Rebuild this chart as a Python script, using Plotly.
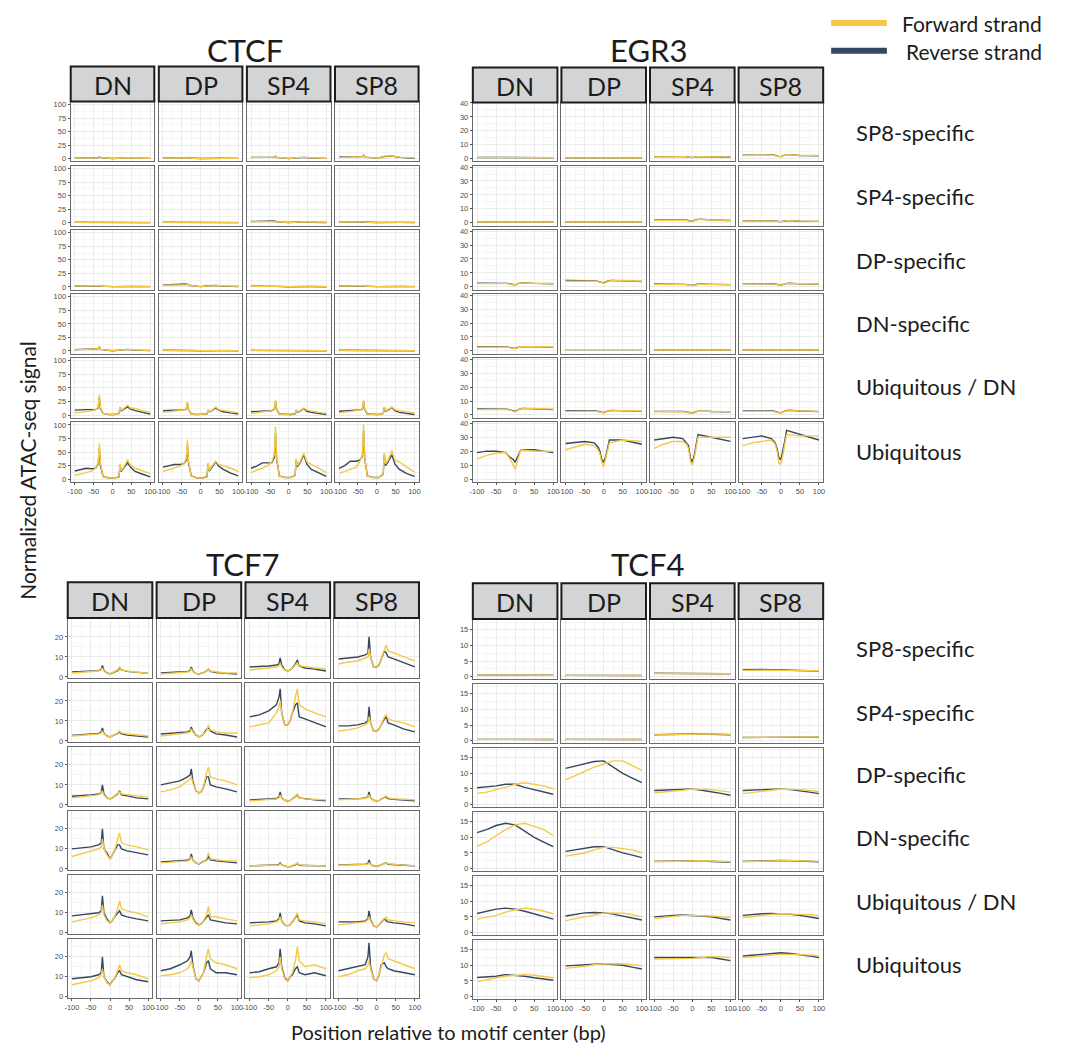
import plotly.graph_objects as go

# ---------------- data ----------------
ROWS = ["SP8-specific", "SP4-specific", "DP-specific", "DN-specific", "Ubiquitous / DN", "Ubiquitous"]
COLS = ["DN", "DP", "SP4", "SP8"]
X_TICKS = [-100, -50, 0, 50, 100]
X_TICK_TEXT = ["-100", "-50", "0", "50", "100"]

# CTCF
CTCF_X = [-100, -85, -70, -55, -45, -38, -35, -32, -25, -10, 5, 17, 20, 23, 30, 40, 48, 60, 80, 100]
CTCF_X_COARSE = [-100, -50, -38, -35, -32, 0, 20, 40, 60, 100]
CTCF_FWD = [
    [[1.5, 1.5, 2, 4, 2, 0.5, 1.5, 2, 1.5, 1], [1.5, 1.5, 1.5, 3, 1.5, 0.5, 1, 1.5, 1, 1],
     [2, 2, 3, 6, 3, 0.5, 2, 3, 2, 1], [2.5, 3, 4, 8, 3, 1, 5, 5, 3, 2]],
    [[1, 1, 1, 1.5, 1, 0.3, 0.8, 1, 0.8, 0.5], [1, 1, 1, 1.5, 1, 0.3, 0.8, 1, 0.8, 0.5],
     [2, 2, 2.5, 4, 2, 0.5, 1.5, 2, 1.5, 1], [1.5, 1.5, 2, 3, 1.5, 0.5, 1, 1.5, 1, 0.8]],
    [[1.5, 1.5, 2, 3, 1.5, 0.5, 1, 1.5, 1, 0.8], [3, 3.5, 4, 6, 3, 0.5, 2, 2.5, 2, 1],
     [1, 1, 1.2, 2, 1, 0.3, 0.8, 1, 0.8, 0.5], [1.5, 1.5, 2, 3, 1.5, 0.5, 1, 1.5, 1, 0.8]],
    [[2, 2.5, 4, 9, 3, 0.5, 2, 3, 2, 1], [1, 1, 1.2, 2, 1, 0.3, 0.8, 1, 0.8, 0.5],
     [1, 1, 1, 1.5, 1, 0.3, 0.8, 1, 0.8, 0.5], [1, 1, 1, 1.5, 1, 0.3, 0.8, 1, 0.8, 0.5]],
    [[4, 5, 7, 8, 10, 14, 38, 14, 3, 1, 1, 3, 15, 9, 12, 18, 13, 12, 8, 5],
     [5, 6, 7, 8, 9, 12, 25, 11, 2, 1, 1, 2, 10, 6, 9, 15, 10, 9, 6, 4],
     [3, 4, 6, 7, 8, 12, 28, 11, 2, 1, 1, 2, 10, 6, 8, 13, 9, 7, 5, 3],
     [4, 5, 6, 8, 9, 12, 28, 11, 2, 1, 1, 3, 15, 8, 10, 15, 10, 8, 6, 4]],
    [[7, 9, 12, 15, 20, 30, 66, 30, 5, 2, 2, 5, 28, 15, 22, 36, 25, 20, 15, 10],
     [14, 17, 20, 24, 28, 38, 73, 32, 6, 2, 2, 6, 30, 16, 24, 33, 27, 25, 20, 14],
     [12, 16, 20, 25, 32, 45, 97, 40, 6, 3, 3, 8, 38, 25, 32, 48, 32, 28, 20, 12],
     [10, 14, 18, 22, 32, 45, 100, 40, 6, 3, 3, 10, 48, 28, 35, 53, 35, 32, 22, 13]],
]
CTCF_REV = [
    [[1.8, 1.8, 2, 3.5, 2, 0.5, 1.5, 2, 1.3, 0.8], [1.8, 1.8, 1.8, 2.8, 1.5, 0.5, 1, 1.5, 1, 0.8],
     [2.5, 2.5, 3, 5, 2.5, 0.5, 2, 2.5, 1.5, 0.8], [3.5, 3.5, 4, 7, 3, 1, 4, 5, 2.5, 1]],
    [[1.2, 1.2, 1.2, 1.5, 1, 0.3, 0.8, 1, 0.7, 0.4], [1.2, 1.2, 1.2, 1.5, 1, 0.3, 0.8, 1, 0.7, 0.4],
     [2.5, 2.5, 2.5, 3.5, 2, 0.5, 1.5, 2, 1.2, 0.7], [1.8, 1.8, 2, 2.8, 1.5, 0.5, 1, 1.5, 0.8, 0.6]],
    [[1.8, 1.8, 2, 2.8, 1.5, 0.5, 1, 1.5, 0.8, 0.6], [3.5, 4, 4.5, 5.5, 3, 0.5, 2, 2.5, 1.5, 0.8],
     [1.2, 1.2, 1.2, 1.8, 1, 0.3, 0.8, 1, 0.7, 0.4], [1.8, 1.8, 2, 2.8, 1.5, 0.5, 1, 1.5, 0.8, 0.6]],
    [[2.5, 3, 4, 8, 3, 0.5, 2, 3, 1.5, 0.8], [1.2, 1.2, 1.2, 1.8, 1, 0.3, 0.8, 1, 0.7, 0.4],
     [1.2, 1.2, 1.2, 1.5, 1, 0.3, 0.8, 1, 0.7, 0.4], [1.2, 1.2, 1.2, 1.5, 1, 0.3, 0.8, 1, 0.7, 0.4]],
    [[9, 10, 10, 10, 10, 13, 33, 12, 3, 1, 1, 3, 14, 8, 11, 15, 11, 8, 5, 2],
     [8, 9, 9, 9, 9, 11, 22, 10, 2, 1, 1, 2, 9, 6, 8, 13, 9, 6, 4, 2],
     [6, 7, 8, 8, 8, 11, 25, 10, 2, 1, 1, 2, 9, 5, 7, 12, 7, 5, 3, 1],
     [7, 8, 9, 9, 9, 11, 25, 10, 2, 1, 1, 3, 14, 7, 9, 14, 8, 5, 3, 1]],
    [[15, 18, 20, 19, 20, 28, 57, 25, 5, 2, 2, 4, 26, 14, 20, 30, 22, 14, 9, 4],
     [22, 24, 27, 27, 28, 35, 62, 30, 6, 2, 2, 5, 28, 15, 22, 32, 24, 18, 11, 6],
     [20, 24, 30, 30, 30, 40, 85, 38, 6, 3, 3, 7, 35, 23, 30, 45, 28, 18, 11, 5],
     [20, 25, 33, 33, 35, 42, 90, 38, 6, 3, 3, 9, 45, 25, 32, 45, 28, 18, 10, 5]],
]

# EGR3
EGR3_X = [-100, -75, -50, -25, -15, -10, -5, 0, 5, 10, 15, 50, 100]
EGR3_X_COARSE = [-100, -50, -20, -5, 0, 10, 20, 50, 100]
EGR3_FWD = [
    [[0.8, 0.8, 0.8, 0.6, 0.5, 0.7, 0.8, 0.8, 0.7], [0.6, 0.6, 0.6, 0.4, 0.3, 0.5, 0.6, 0.6, 0.5],
     [1.3, 1.5, 1.5, 1, 0.8, 1.3, 1.5, 1.3, 1.3], [2.3, 2.5, 2.5, 1.6, 1.4, 2.5, 2.8, 2.4, 2.3]],
    [[0.5, 0.5, 0.5, 0.4, 0.3, 0.4, 0.5, 0.5, 0.5], [0.5, 0.5, 0.5, 0.4, 0.3, 0.4, 0.5, 0.5, 0.5],
     [1.8, 2, 2, 1.2, 1, 2, 2.5, 2, 1.8], [1.3, 1.4, 1.3, 0.8, 0.7, 1.2, 1.5, 1.2, 1.1]],
    [[2.3, 2.5, 2.3, 1.6, 1.3, 2.4, 2.8, 2.6, 2.4], [4, 4.2, 4, 3, 2.5, 3.8, 4.5, 4.5, 4],
     [1.8, 1.9, 1.7, 1.1, 0.9, 1.6, 1.9, 1.8, 1.7], [2.1, 2.3, 2.1, 1.4, 1.1, 2, 2.5, 2.2, 2]],
    [[2.6, 2.8, 2.6, 1.8, 1.5, 2.6, 3, 3, 2.8], [0.9, 0.9, 0.9, 0.7, 0.6, 0.8, 0.9, 1, 0.9],
     [0.6, 0.6, 0.6, 0.4, 0.3, 0.6, 0.7, 0.6, 0.6], [0.6, 0.6, 0.6, 0.4, 0.3, 0.6, 0.7, 0.6, 0.6]],
    [[3.8, 4.2, 4, 2.8, 2.2, 3.8, 4.6, 4.6, 4.2], [2.6, 2.8, 2.6, 1.8, 1.4, 2.6, 3.2, 3, 2.8],
     [2.3, 2.5, 2.3, 1.5, 1.1, 2.2, 2.8, 2.6, 2.4], [2.6, 2.8, 2.6, 1.7, 1.3, 2.5, 3.2, 2.9, 2.6]],
    [[14.5, 17, 18.5, 19, 15, 13, 10, 7, 12, 17, 21, 20, 20],
     [21, 23, 25, 24, 21, 18, 12, 9, 14, 20, 26, 28, 27],
     [22, 25, 27, 27, 25, 22, 13, 10, 15, 22, 30, 30, 30],
     [24, 26, 27, 28, 25, 20, 11, 11, 17, 24, 32, 31, 31]],
]
EGR3_REV = [
    [[0.9, 0.9, 0.8, 0.6, 0.5, 0.7, 0.8, 0.8, 0.7], [0.6, 0.6, 0.6, 0.4, 0.3, 0.5, 0.6, 0.6, 0.5],
     [1.5, 1.6, 1.5, 1, 0.8, 1.3, 1.5, 1.3, 1.2], [2.5, 2.7, 2.6, 1.7, 1.5, 2.6, 2.9, 2.3, 2]],
    [[0.5, 0.5, 0.5, 0.4, 0.3, 0.4, 0.5, 0.5, 0.5], [0.5, 0.5, 0.5, 0.4, 0.3, 0.4, 0.5, 0.5, 0.5],
     [2, 2.2, 2.2, 1.3, 1.1, 2.2, 2.6, 2, 1.6], [1.4, 1.5, 1.4, 0.9, 0.8, 1.3, 1.5, 1.1, 1]],
    [[2.6, 2.7, 2.5, 1.7, 1.4, 2.5, 2.9, 2.5, 2.2], [4.5, 4.6, 4.3, 3.2, 2.8, 4, 4.6, 4.3, 3.8],
     [2, 2, 1.8, 1.2, 1, 1.7, 2, 1.8, 1.6], [2.3, 2.5, 2.2, 1.5, 1.2, 2.1, 2.6, 2.1, 1.9]],
    [[3, 3.1, 2.8, 2, 1.7, 2.7, 3.1, 2.9, 2.5], [0.9, 0.9, 0.9, 0.7, 0.6, 0.8, 0.9, 1, 0.9],
     [0.6, 0.6, 0.6, 0.4, 0.3, 0.6, 0.7, 0.6, 0.6], [0.6, 0.6, 0.6, 0.4, 0.3, 0.6, 0.7, 0.6, 0.6]],
    [[4.3, 4.4, 4.1, 3, 2.5, 4, 4.7, 4.4, 3.8], [3, 3.1, 2.8, 2, 1.6, 2.8, 3.3, 2.9, 2.6],
     [2.6, 2.7, 2.5, 1.6, 1.3, 2.4, 2.9, 2.5, 2.2], [2.9, 3.0, 2.8, 1.8, 1.5, 2.7, 3.4, 2.8, 2.4]],
    [[19, 20, 20, 19, 16, 15, 14, 12, 15, 18, 21, 21, 19],
     [25.5, 26, 27, 26, 23, 20, 14, 12, 16, 22, 28, 28, 25],
     [28, 29, 30, 29, 26, 24, 15, 12, 17, 24, 32, 30, 27],
     [29, 30, 31, 29, 26, 22, 15, 14, 20, 27, 35, 32, 28]],
]

# TCF7
TCF7_X = [-100, -75, -50, -30, -23, -20, -16, -8, 0, 6, 12, 20, 25, 30, 45, 70, 100]
TCF7_FWD = [
    [[2, 2.3, 2.7, 3, 3.5, 4.5, 3, 2, 1.5, 2, 2.5, 3.5, 5, 3.5, 3, 2.5, 1.8],
     [1.5, 1.8, 2.2, 2.5, 3, 4, 2.8, 1.8, 1.5, 1.8, 2.2, 3.2, 4, 3, 2.5, 2, 2],
     [3.5, 4, 4.5, 5, 5.5, 7, 5, 3.5, 3, 3.5, 4.5, 6, 7, 5.5, 5, 4.5, 4],
     [6.5, 7.5, 8, 9.5, 10, 14, 10, 5, 5, 6, 9, 14, 16, 13, 12, 10, 8]],
    [[2.5, 2.8, 3.2, 3.5, 4, 5, 3.5, 2.5, 2, 2.5, 3, 4, 5, 4, 3.5, 3, 2.5],
     [2.5, 3, 3.5, 4, 4.5, 6, 4.5, 3, 2, 2.5, 3.5, 5, 8, 5.5, 4.5, 4, 4],
     [7, 8, 9, 14, 17, 20, 14, 8, 8, 10, 14, 22, 26, 18, 16, 14, 12],
     [5, 5.5, 6.5, 8, 9, 12, 9, 5, 5, 6, 8, 12, 13, 11, 10, 9, 7]],
    [[3.5, 4, 4.5, 5, 6, 7, 5, 3.5, 3, 3.5, 4.5, 5.5, 6.5, 5.5, 5, 4.5, 4],
     [6.5, 7.5, 9, 12, 13, 14, 11, 7, 6, 6.5, 9, 16, 19, 14, 13, 12, 10],
     [2, 2.3, 2.5, 3, 3.5, 5, 3.5, 2.3, 2, 2.3, 3, 4.5, 5.5, 3.5, 3, 2.8, 2.5],
     [2.5, 2.7, 3, 3.2, 3.8, 5, 3.5, 2.3, 2, 2.3, 3, 3.8, 4.5, 3.5, 3, 2.8, 2.5]],
    [[6.2, 7.5, 9, 10, 11, 15, 10, 7, 5, 7, 9, 15, 18, 13, 12, 11, 9.5],
     [3, 3.3, 3.5, 4, 4.5, 6, 4.5, 3, 2.5, 3, 3.5, 5, 8, 5, 4.5, 4, 4],
     [1.5, 1.5, 1.7, 1.8, 2, 2.5, 2, 1.3, 1, 1.2, 1.5, 2.2, 3, 2, 1.8, 1.6, 1.5],
     [1.8, 1.9, 2, 2.2, 2.5, 3, 2.2, 1.5, 1.2, 1.5, 2, 2.8, 3, 2.5, 2.2, 1.9, 1.6]],
    [[5.5, 6.5, 7.5, 9, 10, 14, 9, 6, 5, 6, 8, 12, 16, 12, 11, 10, 8],
     [4.5, 5, 5.5, 6.5, 7.5, 9, 7, 4.5, 4, 4.5, 6, 9, 13, 8, 8, 7, 6],
     [3.5, 4, 4.5, 5.5, 6.5, 8, 6, 4, 3.5, 4, 5.5, 8, 10, 6.5, 6, 5.5, 4.5],
     [4, 4.5, 5, 5.5, 6.5, 8, 6, 3.5, 3, 4, 5.5, 7, 8, 6.5, 6, 5.5, 5]],
    [[6, 7, 8, 9.5, 11, 14, 10, 7, 6, 8, 9, 13, 16, 13, 12, 11, 9],
     [10.5, 11, 12, 14, 16, 18, 15, 9, 8, 10, 12, 20, 24, 19, 17, 16, 14],
     [9.5, 10, 11, 13, 15, 20, 14, 9, 8, 10, 12, 18, 25, 18, 15, 16, 14],
     [10, 11, 13, 14, 16, 18, 14, 9, 8, 11, 15, 21, 22, 19, 18, 16, 14]],
]
TCF7_REV = [
    [[2.5, 2.7, 3, 3.2, 3.8, 5.7, 3.2, 2, 1.5, 2, 2.5, 3.2, 4.5, 3.5, 2.8, 2.2, 1.8],
     [2, 2.2, 2.5, 2.8, 3.3, 5, 3, 1.8, 1.5, 1.8, 2.2, 3, 4, 2.8, 2.2, 1.8, 1.5],
     [5, 5.2, 5.5, 6, 6.5, 9.5, 6, 3.5, 3, 3.5, 4.5, 6.5, 8.5, 5.5, 4.5, 4, 3],
     [9, 9.5, 10, 11, 12, 20, 10, 5, 5, 6, 9, 13, 12, 10, 9, 7, 5]],
    [[2.8, 3, 3.5, 3.8, 4.5, 6.5, 3.8, 2.5, 2, 2.5, 3, 3.8, 4.5, 3.5, 3, 2.5, 2],
     [3.5, 3.8, 4, 4.5, 5, 7, 5, 3, 2, 2.5, 3.5, 5.5, 7, 5, 3.5, 3, 2],
     [12, 13, 15, 18, 22, 26, 14, 8, 8, 10, 14, 18, 19, 12, 11, 9, 7],
     [7.5, 7.5, 8, 9, 10, 17, 9, 5, 5, 6, 8, 11, 12, 9, 8, 6, 4.5]],
    [[4.3, 4.5, 5, 5.5, 6, 10, 5.5, 3.5, 3, 3.5, 4.5, 5.5, 7, 5, 4.5, 3.5, 3],
     [10, 11, 12, 14, 15, 18, 12, 7, 6, 6.5, 9, 14, 14, 10, 9, 8, 6.5],
     [2.5, 2.8, 3, 3.2, 4, 6.5, 3.5, 2.3, 2, 2.3, 3, 4.5, 5, 3.5, 3, 2.5, 2],
     [3, 3, 3, 3.5, 4, 6.5, 3.5, 2.3, 2, 2.3, 3, 3.8, 4, 3.2, 2.8, 2.3, 2]],
    [[10, 10.5, 11, 12, 13, 20, 10, 8, 5, 7, 9, 12, 12, 10, 9, 8, 7],
     [3.5, 3.8, 4, 4.3, 5, 7.5, 4.5, 3, 2.5, 3, 3.5, 4.5, 6, 4.5, 4, 3.5, 3],
     [1.5, 1.6, 1.8, 2, 2.2, 3, 2, 1.3, 1, 1.2, 1.5, 2, 2.8, 1.8, 1.7, 1.5, 1.5],
     [2, 2, 2.1, 2.3, 2.7, 4.5, 2.3, 1.5, 1.2, 1.5, 2, 2.7, 3, 2.3, 2, 1.8, 1.5]],
    [[8.5, 9, 9.5, 10, 11, 18.5, 10, 7, 5, 6, 8, 10, 11, 9, 8, 7, 6],
     [6, 6.3, 6.5, 7.5, 8.5, 11.5, 7.5, 5, 4, 4.5, 6, 8, 9, 6.5, 6, 5, 4.5],
     [5, 5.2, 5.5, 6, 7, 10, 6, 4, 3.5, 4, 5.5, 8, 9, 6, 5, 4.5, 3.5],
     [5.5, 5.5, 5.5, 6, 7, 11, 6.5, 3.5, 3, 4, 5.5, 7, 6, 5.5, 5, 4.5, 3.5]],
    [[9, 9.5, 10, 11, 12, 20, 10, 7.5, 6, 8, 9, 12, 13, 11, 10, 8.5, 7.5],
     [13, 14, 16, 18, 20, 23, 16, 9, 8, 10, 12, 17, 18, 14, 12, 12, 11],
     [12, 12.5, 14, 15, 17, 24, 15, 9.5, 8, 10, 11, 14, 15, 12, 11, 12, 10.5],
     [13, 14, 15, 16, 20, 27, 15, 9, 8, 11, 16, 17, 15, 14, 13, 12, 11]],
]

# TCF4
TCF4_X = [-100, -75, -50, -25, 0, 25, 50, 75, 100]
TCF4_FWD = [
    [[0.5, 0.5, 0.55, 0.55, 0.55, 0.5, 0.5, 0.45, 0.45], [0.4, 0.4, 0.45, 0.45, 0.45, 0.4, 0.4, 0.4, 0.35],
     [1.0, 1.05, 1.1, 1.1, 1.0, 1.0, 1.0, 0.95, 0.95], [2.0, 2.1, 2.2, 2.1, 2.0, 2.0, 2.0, 1.9, 1.9]],
    [[0.4, 0.4, 0.4, 0.4, 0.4, 0.4, 0.4, 0.4, 0.35], [0.4, 0.4, 0.4, 0.4, 0.4, 0.4, 0.4, 0.4, 0.35],
     [1.8, 1.9, 1.9, 2.0, 2.0, 2.1, 2.1, 2.0, 2.0], [1.0, 1.0, 1.1, 1.1, 1.1, 1.1, 1.1, 1.1, 1.2]],
    [[3.6, 4, 4.8, 5.5, 6.5, 7, 6.5, 6, 5], [7.9, 9.3, 10.5, 12, 13, 14, 14, 12.5, 11],
     [3.8, 4, 4.2, 4.6, 5, 5, 4.8, 4.4, 4], [3.5, 3.8, 4.2, 4.6, 5, 5, 4.8, 4.5, 4.2]],
    [[7.2, 8.5, 10.5, 12.5, 14, 14.5, 13.5, 12.5, 10.5], [4, 4.4, 5, 6, 6.8, 6.8, 6.5, 6, 5],
     [2.2, 2.3, 2.4, 2.5, 2.5, 2.5, 2.4, 2.3, 2.2], [2.2, 2.3, 2.4, 2.5, 2.6, 2.6, 2.5, 2.4, 2.3]],
    [[4.3, 4.8, 5.5, 6.5, 7.3, 7.8, 7.5, 6.8, 6], [3.8, 4.4, 5, 5.7, 6.2, 6.3, 6.2, 5.7, 5],
     [4.5, 4.9, 5.3, 5.5, 5.5, 5.5, 5.3, 5.1, 4.8], [4.8, 5.2, 5.5, 5.8, 6, 6, 5.8, 5.7, 5.5]],
    [[4.7, 5.4, 6, 6.5, 6.8, 7, 6.8, 6.5, 6], [9, 9.3, 9.7, 10.2, 10.5, 10.5, 10.5, 10.2, 9.8],
     [12, 12, 12, 12.2, 12.2, 12.5, 12.8, 12.7, 12.5], [12.5, 12.8, 13, 13.3, 13.5, 13.5, 13.5, 13.3, 13]],
]
TCF4_REV = [
    [[0.5, 0.5, 0.55, 0.55, 0.55, 0.5, 0.5, 0.45, 0.45], [0.4, 0.4, 0.45, 0.45, 0.45, 0.4, 0.4, 0.4, 0.35],
     [1.1, 1.1, 1.15, 1.1, 1.05, 1.0, 0.95, 0.95, 0.9], [2.2, 2.3, 2.3, 2.2, 2.1, 2.0, 2.0, 1.9, 1.8]],
    [[0.4, 0.4, 0.4, 0.4, 0.4, 0.4, 0.4, 0.4, 0.35], [0.4, 0.4, 0.4, 0.4, 0.4, 0.4, 0.4, 0.4, 0.35],
     [1.9, 2.0, 2.0, 2.0, 2.1, 2.1, 2.0, 2.0, 1.9], [1.0, 1.05, 1.1, 1.1, 1.1, 1.1, 1.1, 1.1, 1.1]],
    [[5.4, 5.6, 6, 6.5, 6.5, 5.5, 4.8, 4, 3.3], [11.6, 12.3, 13.2, 13.8, 14, 12, 10, 8.5, 7],
     [4.5, 4.6, 4.8, 5, 5, 4.6, 4.2, 3.6, 3], [4.5, 4.6, 4.8, 5, 5, 4.8, 4.5, 4, 3.5]],
    [[11.5, 12.5, 13.8, 14.5, 14, 12, 10, 8.5, 7], [5.5, 6, 6.5, 7, 7, 6, 5, 4.3, 3.5],
     [2.3, 2.4, 2.5, 2.6, 2.5, 2.4, 2.3, 2.1, 2.0], [2.3, 2.4, 2.5, 2.6, 2.6, 2.5, 2.4, 2.3, 2.2]],
    [[6.1, 6.8, 7.5, 7.8, 7.5, 6.8, 6, 5, 4.3], [5.3, 5.8, 6.3, 6.4, 6.3, 5.9, 5.3, 4.7, 4],
     [5, 5.3, 5.5, 5.6, 5.5, 5.3, 5, 4.5, 4], [5.5, 5.8, 6, 6.1, 6, 5.8, 5.5, 5, 4.5]],
    [[6.1, 6.3, 6.5, 7, 6.8, 6.5, 6, 5.6, 5.2], [9.8, 10, 10.2, 10.5, 10.5, 10.2, 10, 9.4, 8.8],
     [12.5, 12.5, 12.5, 12.5, 12.5, 12.5, 12.5, 12, 11.5], [13, 13.2, 13.5, 13.8, 14, 13.8, 13.5, 13, 12.5]],
]

CTCF_Y_TICKS = [0, 25, 50, 75, 100]
EGR3_Y_TICKS = [0, 10, 20, 30, 40]
TCF7_Y_TICKS = [0, 10, 20]
TCF4_Y_TICKS = [0, 5, 10, 15]

# ---------------- style / geometry ----------------
WIN_W, WIN_H = 1086, 1057
OFF = 8  # default body margin of the html page
W, H = WIN_W - 2 * OFF, WIN_H - 2 * OFF
FWD_COLOR = "#F6C944"
REV_COLOR = "#34475F"
FONT = "Lato"
TXT = "#1c1c1c"


def px(x):
    return (x - OFF) / W


def py(y):
    return 1 - (y - OFF) / H


PANELS = [
    dict(name="CTCF", xg=CTCF_X, xc=CTCF_X_COARSE, fwd=CTCF_FWD, rev=CTCF_REV, yt=CTCF_Y_TICKS,
         yminor=[12.5, 37.5, 62.5, 87.5], yr=[-5, 105],
         cx0=68, cp=88.5, cw=84, ry0=99.5, rp=64.5, rh=60, st=(64, 99), ty=47),
    dict(name="EGR3", xg=EGR3_X, xc=EGR3_X_COARSE, fwd=EGR3_FWD, rev=EGR3_REV, yt=EGR3_Y_TICKS,
         yminor=[5, 15, 25, 35], yr=[-2, 40.8],
         cx0=472, cp=89, cw=85, ry0=99.5, rp=64.5, rh=60, st=(65, 100), ty=47),
    dict(name="TCF7", xg=TCF7_X, xc=TCF7_X, fwd=TCF7_FWD, rev=TCF7_REV, yt=TCF7_Y_TICKS,
         yminor=[5, 15, 25], yr=[-0.5, 29],
         cx0=65, cp=89.3, cw=85, ry0=620, rp=64.4, rh=59.5, st=(583, 619), ty=565),
    dict(name="TCF4", xg=TCF4_X, xc=TCF4_X, fwd=TCF4_FWD, rev=TCF4_REV, yt=TCF4_Y_TICKS,
         yminor=[2.5, 7.5, 12.5, 17.5], yr=[-0.75, 18.2],
         cx0=472, cp=89, cw=85, ry0=621, rp=64.4, rh=59.5, st=(584, 620), ty=565),
]


def text(t, x, y, size, xanchor="center", angle=0):
    return dict(text=t, x=px(x), y=py(y), xref="paper", yref="paper", showarrow=False,
                xanchor=xanchor, yanchor="middle", textangle=angle,
                font=dict(family=FONT, size=size, color=TXT))


fig = go.Figure()
layout = {}
shapes = []
annotations = []

k = 0
for P in PANELS:
    for r in range(6):
        for c in range(4):
            k += 1
            xa = "x" if k == 1 else f"x{k}"
            ya = "y" if k == 1 else f"y{k}"
            x0 = P["cx0"] + c * P["cp"]
            x1 = x0 + P["cw"]
            y0 = P["ry0"] + r * P["rp"]
            y1 = y0 + P["rh"]
            for series, color in ((P["rev"], REV_COLOR), (P["fwd"], FWD_COLOR)):
                yv = series[r][c]
                xv = P["xg"] if len(yv) == len(P["xg"]) else P["xc"]
                fig.add_trace(go.Scatter(x=xv, y=yv, mode="lines", xaxis=xa, yaxis=ya,
                                         line=dict(color=color, width=1.4), showlegend=False,
                                         hoverinfo="skip"))
            bottom = (r == 5)
            left = (c == 0)
            layout["xaxis" if k == 1 else f"xaxis{k}"] = dict(
                domain=[px(x0), px(x1)], anchor=ya, range=[-111, 111],
                tickvals=X_TICKS, ticktext=X_TICK_TEXT, showticklabels=bottom,
                ticks="outside" if bottom else "", ticklen=2, tickcolor="#555555",
                tickfont=dict(family="Liberation Sans", size=7.5, color="#4d4d4d"),
                showgrid=True, gridcolor="#EBEBEB", gridwidth=0.8,
                minor=dict(tickvals=[-75, -25, 25, 75], showgrid=True, gridcolor="#F5F5F5",
                           gridwidth=0.5, ticks=""),
                zeroline=False, showline=True, mirror=True, linecolor="#6a6a6a", linewidth=1.2,
                fixedrange=True)
            layout["yaxis" if k == 1 else f"yaxis{k}"] = dict(
                domain=[py(y1), py(y0)], anchor=xa, range=P["yr"],
                tickvals=P["yt"], showticklabels=left,
                ticks="outside" if left else "", ticklen=2, tickcolor="#555555",
                tickfont=dict(family="Liberation Sans", size=7.5, color="#4d4d4d"),
                showgrid=True, gridcolor="#EBEBEB", gridwidth=0.8,
                minor=dict(tickvals=P["yminor"], showgrid=True, gridcolor="#F5F5F5",
                           gridwidth=0.5, ticks=""),
                zeroline=False, showline=True, mirror=True, linecolor="#6a6a6a", linewidth=1.2,
                fixedrange=True)
    # strips
    for c, lab in enumerate(COLS):
        x0 = P["cx0"] + c * P["cp"]
        x1 = x0 + P["cw"]
        shapes.append(dict(type="rect", xref="paper", yref="paper",
                           x0=px(x0), x1=px(x1), y0=py(P["st"][1]), y1=py(P["st"][0]),
                           fillcolor="#D3D4D6", line=dict(color="#1c1c1c", width=2)))
        annotations.append(text(lab, (x0 + x1) / 2, (P["st"][0] + P["st"][1]) / 2 + 1, 25))
    # title
    xm = (P["cx0"] + P["cx0"] + 3 * P["cp"] + P["cw"]) / 2
    annotations.append(text(P["name"], xm, P["ty"], 31))

# row labels
ROW_LABEL_Y_TOP = [130, 195, 259, 323, 386, 451]
ROW_LABEL_Y_BOTTOM = [650, 714, 777, 840, 905, 968]
for ys in (ROW_LABEL_Y_TOP, ROW_LABEL_Y_BOTTOM):
    for lab, yy in zip(ROWS, ys):
        annotations.append(text(lab, 855, yy, 22, xanchor="left"))

# legend
for lab, color, yy, xt in (("Forward strand", FWD_COLOR, 21, 901), ("Reverse strand", REV_COLOR, 49, 905)):
    shapes.append(dict(type="line", xref="paper", yref="paper", x0=px(832), x1=px(888),
                       y0=py(yy - 1), y1=py(yy - 1), line=dict(color=color, width=6)))
    annotations.append(text(lab, xt, yy, 21, xanchor="left"))

# axis titles
annotations.append(text("Normalized ATAC-seq signal", 25, 470, 21, angle=-90))
annotations.append(text("Position relative to motif center (bp)", 448, 1036, 20))

fig.update_layout(width=W, height=H, margin=dict(l=0, r=0, t=0, b=0),
                  paper_bgcolor="white", plot_bgcolor="white", showlegend=False,
                  shapes=shapes, annotations=annotations, **layout)
fig.write_html("out.html")
